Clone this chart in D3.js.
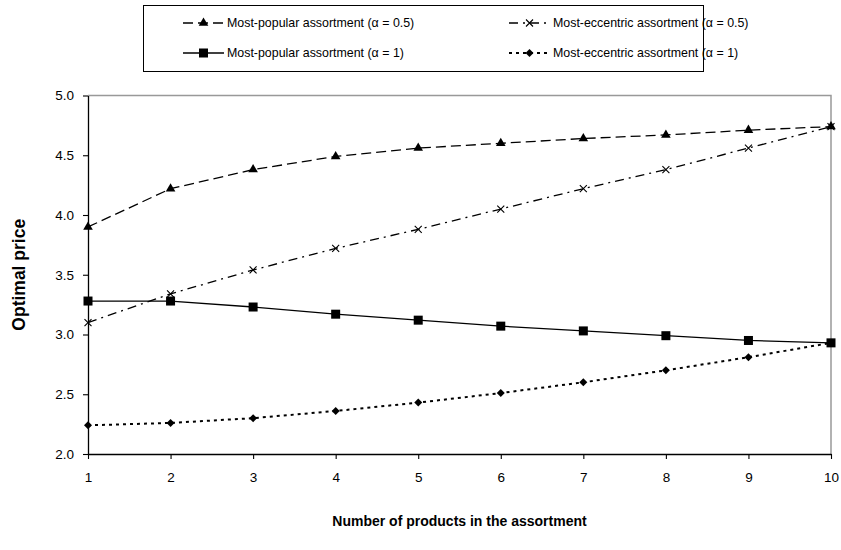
<!DOCTYPE html>
<html>
<head>
<meta charset="utf-8">
<script src="https://cdn.jsdelivr.net/npm/d3@7"></script>
<style>
  html, body { margin: 0; padding: 0; background: #fff; }
  svg { display: block; font-family: "Liberation Sans", Arial, sans-serif; }
</style>
</head>
<body>
<svg id="chart" width="841" height="550"></svg>
<script>
// Number of products in the assortment
const products = [1, 2, 3, 4, 5, 6, 7, 8, 9, 10];

// Optimal price per assortment type
const popularHalf   = [3.90, 4.22, 4.38, 4.49, 4.56, 4.60, 4.64, 4.67, 4.71, 4.74];
const eccentricHalf = [3.10, 3.34, 3.54, 3.72, 3.88, 4.05, 4.22, 4.38, 4.56, 4.74];
const popularOne    = [3.28, 3.28, 3.23, 3.17, 3.12, 3.07, 3.03, 2.99, 2.95, 2.93];
const eccentricOne  = [2.24, 2.26, 2.30, 2.36, 2.43, 2.51, 2.60, 2.70, 2.81, 2.93];

const yTicks = [2.0, 2.5, 3.0, 3.5, 4.0, 4.5, 5.0];

const seriesNames = [
  "Most-popular assortment (\u03b1 = 0.5)",
  "Most-eccentric assortment (\u03b1 = 0.5)",
  "Most-popular assortment (\u03b1 = 1)",
  "Most-eccentric assortment (\u03b1 = 1)"
];

const series = [
  { name: seriesNames[0], values: popularHalf,   dash: "10,5",       width: 1.3, marker: "triangle" },
  { name: seriesNames[1], values: eccentricHalf, dash: "9,5,2,5",    width: 1.3, marker: "x" },
  { name: seriesNames[2], values: popularOne,    dash: null,         width: 1.3, marker: "square" },
  { name: seriesNames[3], values: eccentricOne,  dash: "3,4",        width: 2,   marker: "diamond" }
];

const svg = d3.select("#chart");
const plot = { left: 88, right: 831, top: 95.5, bottom: 454 };

const x = d3.scaleLinear().domain([1, 10]).range([plot.left, plot.right]);
const y = d3.scaleLinear().domain([2, 5]).range([plot.bottom, plot.top]);

// plot area frame: grey top/right edges
svg.append("path")
  .attr("d", `M${plot.left},${plot.top}H${plot.right}V${plot.bottom}`)
  .attr("fill", "none").attr("stroke", "#999").attr("stroke-width", 1.5);

// axes
const xAxis = svg.append("g")
  .attr("transform", `translate(0,${plot.bottom})`)
  .call(d3.axisBottom(x).tickValues(products).tickFormat(d3.format("d")).tickSize(5).tickSizeOuter(0));
const yAxis = svg.append("g")
  .attr("transform", `translate(${plot.left},0)`)
  .call(d3.axisLeft(y).tickValues(yTicks).tickFormat(d3.format(".1f")).tickSize(5).tickSizeOuter(0));

[xAxis, yAxis].forEach(g => {
  g.select(".domain").attr("stroke", "#000").attr("stroke-width", 1.3);
  g.selectAll(".tick line").attr("stroke", "#000").attr("stroke-width", 1.1);
  g.selectAll(".tick text").attr("fill", "#000").attr("font-size", 13.5)
    .attr("font-family", "Liberation Sans, Arial, sans-serif");
});
xAxis.selectAll(".tick text").attr("dy", "0.71em").attr("y", 18);
yAxis.selectAll(".tick text").attr("x", -14);

// axis titles
svg.append("text")
  .attr("x", (plot.left + plot.right) / 2).attr("y", 526)
  .attr("text-anchor", "middle").attr("font-size", 14).attr("font-weight", "bold")
  .text("Number of products in the assortment");
svg.append("text")
  .attr("transform", `translate(25,${(plot.top + plot.bottom) / 2}) rotate(-90)`)
  .attr("text-anchor", "middle").attr("font-size", 17.5).attr("font-weight", "bold")
  .text("Optimal price");

// marker drawing
function drawMarker(g, type, cx, cy) {
  if (type === "triangle") {
    g.append("path").attr("d", d3.symbol(d3.symbolTriangle, 40)())
      .attr("transform", `translate(${cx},${cy})`).attr("fill", "#000");
  } else if (type === "square") {
    g.append("rect").attr("x", cx - 4.5).attr("y", cy - 4.5)
      .attr("width", 9).attr("height", 9).attr("fill", "#000");
  } else if (type === "diamond") {
    g.append("path").attr("d", `M${cx},${cy - 4}L${cx + 4},${cy}L${cx},${cy + 4}L${cx - 4},${cy}Z`)
      .attr("fill", "#000");
  } else if (type === "x") {
    g.append("path").attr("d", `M${cx - 3.5},${cy - 3.5}L${cx + 3.5},${cy + 3.5}M${cx - 3.5},${cy + 3.5}L${cx + 3.5},${cy - 3.5}`)
      .attr("stroke", "#000").attr("stroke-width", 1.1).attr("fill", "none");
  }
}

const line = d3.line().x((d, i) => x(products[i])).y(d => y(d));

const marks = svg.append("g");
series.forEach(s => {
  marks.append("path")
    .datum(s.values)
    .attr("d", line)
    .attr("fill", "none")
    .attr("stroke", "#000")
    .attr("stroke-width", s.width)
    .attr("stroke-dasharray", s.dash);
  s.values.forEach((v, i) => drawMarker(marks, s.marker, x(products[i]), y(v)));
});

// legend
const legend = svg.append("g");
legend.append("rect").attr("x", 143.5).attr("y", 5.5).attr("width", 560).attr("height", 66)
  .attr("fill", "#fff").attr("stroke", "#000").attr("stroke-width", 1);

const legendPos = [
  { x: 183, y: 23 }, { x: 509, y: 23 },
  { x: 183, y: 53 }, { x: 509, y: 53 }
];
series.forEach((s, i) => {
  const p = legendPos[i];
  legend.append("line")
    .attr("x1", p.x).attr("x2", p.x + 41).attr("y1", p.y).attr("y2", p.y)
    .attr("stroke", "#000").attr("stroke-width", s.width)
    .attr("stroke-dasharray", s.dash);
  drawMarker(legend, s.marker, p.x + 20.5, p.y);
  legend.append("text")
    .attr("x", p.x + 44).attr("y", p.y).attr("dy", "0.35em")
    .attr("font-size", 12.4).attr("fill", "#000")
    .text(s.name);
});
</script>
</body>
</html>
